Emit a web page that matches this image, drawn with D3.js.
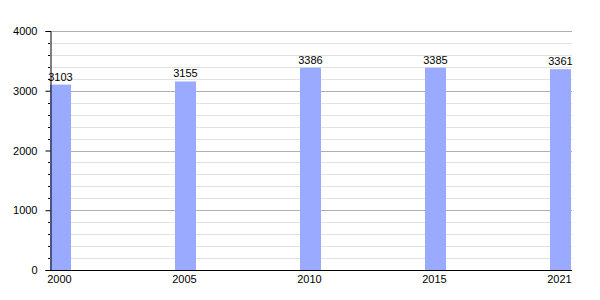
<!DOCTYPE html>
<html>
<head>
<meta charset="utf-8">
<script src="https://cdn.jsdelivr.net/npm/d3@7"></script>
<style>
  body { margin: 0; background: #fff; }
  text { font-family: "Liberation Sans", Arial, sans-serif; font-size: 11px; fill: #000; }
</style>
</head>
<body>
<div id="chart"></div>
<script>
const years = ['2000', '2005', '2010', '2015', '2021'];
const population = [3103, 3155, 3386, 3385, 3361];
const yTicks = [0, 1000, 2000, 3000, 4000];

(function () {
  const w = 600, h = 300;
  const left = 50, right = 572, top = 31, bottom = 270;
  const svg = d3.select('#chart').append('svg').attr('width', w).attr('height', h);

  const y = d3.scaleLinear().domain([0, 4000]).range([bottom, top]);
  // step 125px, bar 21px wide, first bar flush with the axis
  const x = d3.scaleBand().domain(years).range([left, left + 521]).paddingInner(104 / 125).paddingOuter(0);

  // grid
  const minor = d3.range(0, 4001, 200);
  svg.append('g').selectAll('line').data(minor.filter((v) => v % 1000 !== 0)).join('line')
    .attr('x1', left).attr('x2', right)
    .attr('y1', (d) => Math.round(y(d)) + 0.5).attr('y2', (d) => Math.round(y(d)) + 0.5)
    .attr('stroke', '#e2e2e2').attr('stroke-width', 1);
  svg.append('g').selectAll('line').data(yTicks.filter((v) => v > 0)).join('line')
    .attr('x1', left).attr('x2', right)
    .attr('y1', (d) => Math.round(y(d)) + 0.5).attr('y2', (d) => Math.round(y(d)) + 0.5)
    .attr('stroke', '#b0b0b0').attr('stroke-width', 1);

  // bars
  svg.append('g').selectAll('rect').data(population).join('rect')
    .attr('x', (d, i) => x(years[i]))
    .attr('width', x.bandwidth())
    .attr('y', (d) => y(d))
    .attr('height', (d) => bottom - y(d))
    .attr('fill', '#99aaff');

  svg.append('g').selectAll('text').data(population).join('text')
    .attr('x', (d, i) => x(years[i]) + x.bandwidth() / 2)
    .attr('y', (d) => y(d) - 4)
    .attr('text-anchor', 'middle')
    .text((d) => d);

  // y axis
  const yAxis = svg.append('g').attr('transform', `translate(${left + 0.5},0)`)
    .call(d3.axisLeft(y).tickValues(yTicks).tickSize(5).tickPadding(8).tickFormat(d3.format('d')));
  yAxis.select('.domain').attr('stroke', '#000');
  yAxis.selectAll('.tick line').attr('stroke', '#000');
  yAxis.selectAll('text').style('font-size', '11px');
  svg.append('g').selectAll('line').data(minor.filter((v) => v % 1000 !== 0)).join('line')
    .attr('x1', left - 2).attr('x2', left)
    .attr('y1', (d) => Math.round(y(d)) + 0.5).attr('y2', (d) => Math.round(y(d)) + 0.5)
    .attr('stroke', '#000');

  // x axis
  svg.append('line').attr('x1', left).attr('x2', right).attr('y1', bottom + 0.5).attr('y2', bottom + 0.5).attr('stroke', '#000');
  svg.append('g').selectAll('text').data(years).join('text')
    .attr('x', (d) => x(d) + x.bandwidth() / 2 - 1)
    .attr('y', bottom + 13)
    .attr('text-anchor', 'middle')
    .text((d) => d);
})();
</script>
</body>
</html>
